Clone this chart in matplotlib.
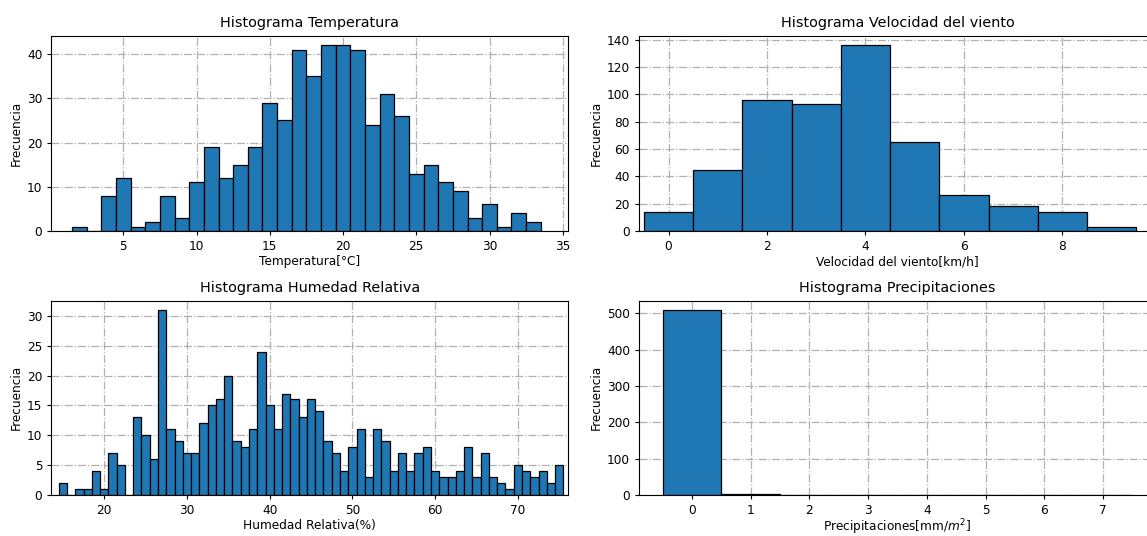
import numpy as np
import matplotlib
matplotlib.use("Agg")
import matplotlib.pyplot as plt
from matplotlib.ticker import MultipleLocator

# counts
temp_edges = np.arange(1.5, 34.5, 1.0)
temp_counts = [1, 0, 8, 12, 1, 2, 8, 3, 11, 19, 12, 15, 19, 29, 25, 41,
               35, 42, 42, 41, 24, 31, 26, 13, 15, 11, 9, 3, 6, 1, 4, 2]

wind_edges = np.arange(-0.5, 10.5, 1.0)
wind_counts = [14, 45, 96, 93, 136, 65, 26, 18, 14, 3]

hum_edges = np.arange(14.5, 76.5, 1.0)
hum_counts = [2, 0, 1, 1, 4, 1, 7, 5, 0, 13, 10, 6, 31, 11, 9, 7, 7, 12, 15, 16,
              20, 9, 8, 11, 24, 15, 11, 17, 16, 13, 16, 14, 9, 7, 4, 8, 11, 3, 11, 9,
              4, 7, 4, 7, 8, 4, 3, 3, 4, 8, 3, 7, 3, 2, 1, 5, 4, 3, 4, 2, 5]

prec_edges = np.arange(-0.5, 8.5, 1.0)
prec_counts = [509, 3, 1, 1, 0, 0, 0, 1]

plt.rcParams["font.size"] = 8.7
plt.rcParams["xtick.major.size"] = 3
plt.rcParams["ytick.major.size"] = 3

fig = plt.figure(figsize=(11.47, 5.36), dpi=100)

W = 517 / 1147
positions = [
    [51.3 / 1147, 305 / 536, W, 195 / 536],
    [639 / 1147, 305 / 536, W, 195 / 536],
    [51.3 / 1147, 41 / 536, W, 194.3 / 536],
    [639 / 1147, 41 / 536, W, 194.3 / 536],
]

panels = [
    ("Histograma Temperatura", "Temperatura[°C]", temp_edges, temp_counts, (0.08, 35.38), 10, 1.5),
    ("Histograma Velocidad del viento", "Velocidad del viento[km/h]", wind_edges, wind_counts, (-0.6, 9.9), 20, 1.5),
    ("Histograma Humedad Relativa", "Humedad Relativa(%)", hum_edges, hum_counts, (13.6, 76.1), 5, 1.5),
    ("Histograma Precipitaciones", "Precipitaciones[mm/$m^2$]", prec_edges, prec_counts, None, 100, 0),
]

for pos, (title, xlabel, edges, counts, xlim, ystep, lpad) in zip(positions, panels):
    ax = fig.add_axes(pos)
    ax.set_axisbelow(True)
    ax.hist(edges[:-1] + 0.5, bins=edges, weights=counts,
            color="#1f77b4", edgecolor="black", linewidth=0.9)
    ax.grid(True, linestyle="-.", color="#b0b0b0", linewidth=0.9)
    ax.set_title(title, fontsize=10.4, pad=6.5)
    ax.set_xlabel(xlabel, labelpad=lpad)
    ax.set_ylabel("Frecuencia", labelpad=3)
    ax.yaxis.set_major_locator(MultipleLocator(ystep))
    if xlim is not None:
        ax.set_xlim(*xlim)

fig.savefig("out.png", dpi=100)
